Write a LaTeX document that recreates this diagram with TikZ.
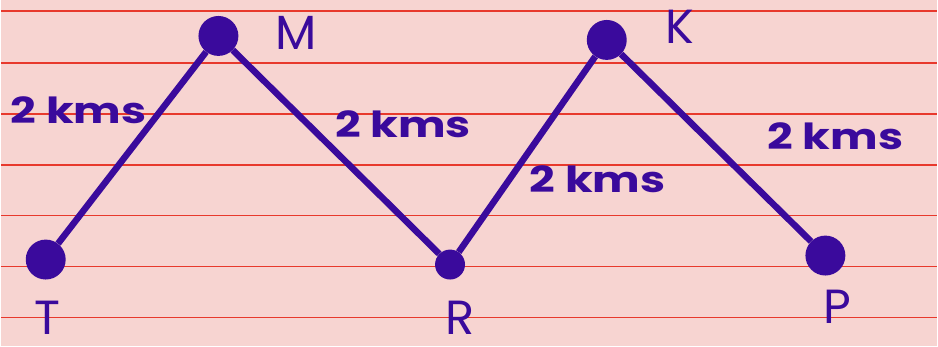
\documentclass[tikz,border=0pt]{standalone}
\usepackage{fontspec}
\setmainfont{Poppins}
\usetikzlibrary{positioning}
\definecolor{paper}{HTML}{F7D4D1}
\definecolor{rule}{HTML}{E8392C}
\definecolor{ink}{HTML}{3A0A9C}

\begin{document}
\begin{tikzpicture}[
  x=1pt, y=-1pt,
  town/.style={circle, fill=ink, inner sep=0pt, minimum size=40pt},
  small town/.style={town, minimum size=30pt},
  townlabel/.style={text=ink, inner sep=0pt, anchor=base, text depth=0pt, text height=0.72em, font=\fontsize{48}{48}\selectfont},
  dist/.style={text=ink, font=\fontsize{36}{36}\selectfont\bfseries, xscale=1.25, transform shape},
  road/.style={draw=ink, line width=6.5pt}
]
% paper and ruled lines
\fill[paper] (0,0) rectangle (938,347);
\foreach \y in {11,63,114,165,216,267,318}
  \draw[rule, line width=1.6pt] (0,\y) -- (938,\y);

% towns
\node[town] (T) at (45,260) {};
\node[town] (M) at (218,36) {};
\node[small town] (R) at (450,265) {};
\node[town] (K) at (607,40) {};
\node[town] (P) at (826,256) {};

% roads
\draw[road] (T) -- (M);
\draw[road] (M) -- (R);
\draw[road] (R) -- (K);
\draw[road] (K) -- (P);

% names
\node[townlabel] (Tname) at (47,335) {T};
\node[townlabel] (Mname) at (296,50) {M};
\node[townlabel] (Rname) at (460,335) {R};
\node[townlabel] (Kname) at (680,44) {K};
\node[townlabel] (Pname) at (838,324) {P};

% distances
\node[dist] (TM) at (78,110) {2 kms};
\node[dist] (MR) at (403,124) {2 kms};
\node[dist] (RK) at (598,180) {2 kms};
\node[dist] (KP) at (836,136) {2 kms};
\end{tikzpicture}
\end{document}
